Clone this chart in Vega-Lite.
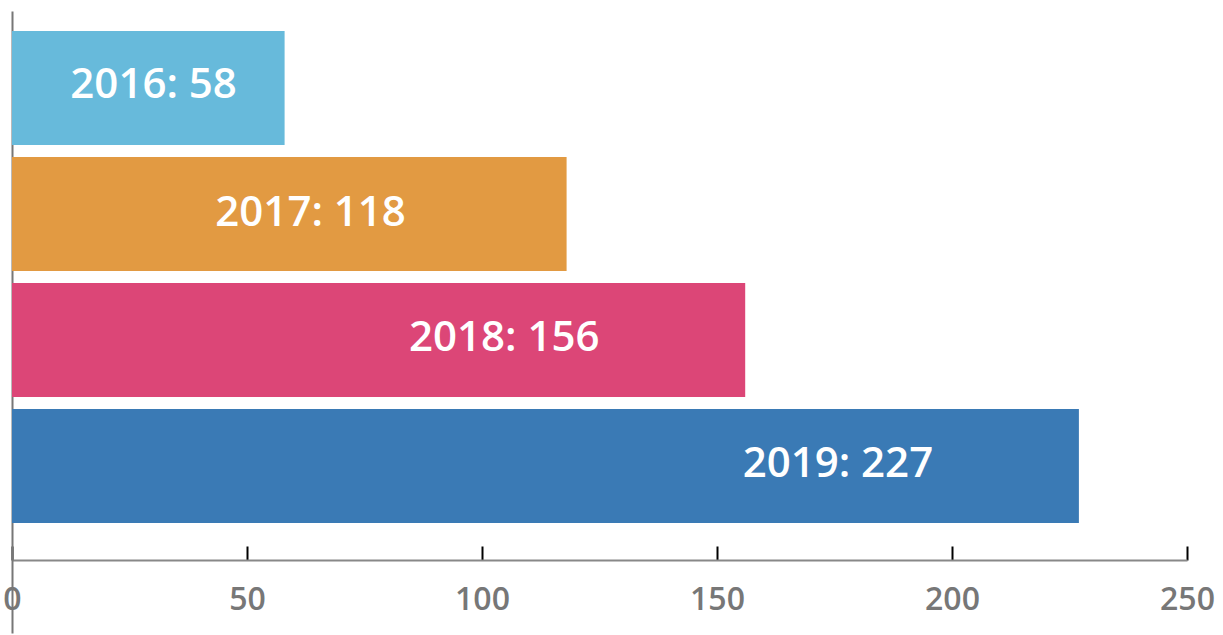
{
  "$schema": "https://vega.github.io/schema/vega-lite/v6.json",
  "width": 1175,
  "height": 622,
  "autosize": {"type": "none"},
  "padding": {"left": 12, "top": 11, "right": 36, "bottom": 2},
  "background": "white",
  "config": {"view": {"stroke": null}},
  "data": {
    "values": [
      {"year": "2016", "count": 58, "label": "2016: 58"},
      {"year": "2017", "count": 118, "label": "2017: 118"},
      {"year": "2018", "count": 156, "label": "2018: 156"},
      {"year": "2019", "count": 227, "label": "2019: 227"}
    ]
  },
  "encoding": {
    "y": {
      "field": "year",
      "type": "nominal",
      "sort": null,
      "scale": {"paddingInner": 0.0952, "paddingOuter": 0.5159, "align": 0.1538},
      "axis": {"title": null, "labels": false, "ticks": false, "domain": true, "domainColor": "#777777", "domainWidth": 2, "grid": false}
    },
    "x": {
      "field": "count",
      "type": "quantitative",
      "scale": {"domain": [0, 250], "nice": false},
      "axis": {
        "title": null,
        "values": [0, 50, 100, 150, 200, 250],
        "grid": false,
        "domainColor": "#888888",
        "domainWidth": 2,
        "tickColor": "#000000",
        "tickWidth": 2,
        "tickSize": -14,
        "offset": -73,
        "labelFont": "Open Sans",
        "labelFontSize": 32,
        "labelFontWeight": 600,
        "labelColor": "#777777",
        "labelPadding": 38,
        "labelFlush": false,
        "labelOverlap": false
      }
    }
  },
  "layer": [
    {
      "mark": {"type": "bar"},
      "encoding": {
        "color": {
          "field": "year",
          "type": "nominal",
          "scale": {"domain": ["2016", "2017", "2018", "2019"], "range": ["#67BADB", "#E29A42", "#DC4677", "#3A7AB5"]},
          "legend": null
        }
      }
    },
    {
      "transform": [{"filter": "datum.year == '2016'"}],
      "mark": {"type": "text", "align": "center", "baseline": "middle", "dx": -131, "dy": -3, "font": "Open Sans", "fontWeight": 600, "fontSize": 42, "color": "white"},
      "encoding": {"text": {"field": "label"}}
    },
    {
      "transform": [{"filter": "datum.year == '2017'"}],
      "mark": {"type": "text", "align": "center", "baseline": "middle", "dx": -256, "dy": -1, "font": "Open Sans", "fontWeight": 600, "fontSize": 42, "color": "white"},
      "encoding": {"text": {"field": "label"}}
    },
    {
      "transform": [{"filter": "datum.year == '2018' || datum.year == '2019'"}],
      "mark": {"type": "text", "align": "center", "baseline": "middle", "dx": -241, "dy": -2, "font": "Open Sans", "fontWeight": 600, "fontSize": 42, "color": "white"},
      "encoding": {"text": {"field": "label"}}
    }
  ]
}
